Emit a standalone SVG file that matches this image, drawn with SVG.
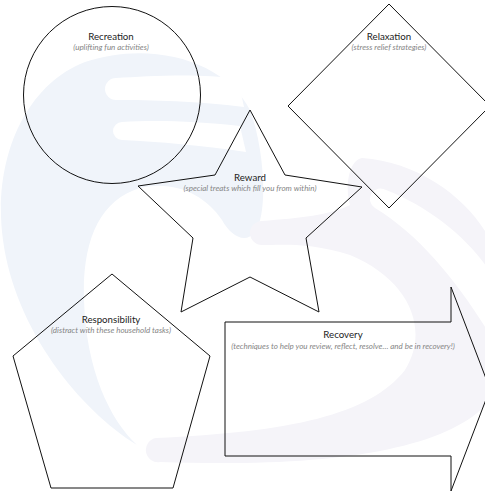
<svg xmlns="http://www.w3.org/2000/svg" width="485" height="492" viewBox="0 0 485 492">
<style>
.shape{fill:none;stroke:#111;stroke-width:1;stroke-linejoin:miter}
.t{font-family:Lato,"Liberation Sans",sans-serif;font-size:9.7px;fill:#222;text-anchor:middle}
.s{font-family:Lato,"Liberation Sans",sans-serif;font-size:8px;font-style:italic;fill:#858585;text-anchor:middle}
.bg1{fill:#f0f4fa}
.bg2{fill:#f5f4f9}
.w{fill:#ffffff}
</style>
<rect width="485" height="492" fill="#ffffff"/>
<g id="background">
<path class="bg1" d="M137,445 C80,410 15,330 3,240 C-8,160 25,85 85,62 C150,40 225,60 250,110 C265,150 268,215 255,232 C245,245 230,235 222,220 C205,195 175,180 140,188 C100,200 82,240 84,300 C86,370 110,420 137,445 Z"/>
<path class="w" d="M238,79 C200,73 150,76 116,78 A11 11 0 0 0 116,100 C150,100 200,101 244,107 Z"/>
<path class="w" d="M240,126 C195,121 155,120 122,122 A9 9 0 0 0 122,140 C160,142 200,145 246,152 Z"/>
<path class="bg2" d="M362,158 C420,162 470,200 490,240 L490,400 C450,450 330,468 160,462 A12 12 0 0 1 156,438 C290,432 370,415 405,370 C430,330 410,280 350,255 C310,242 280,245 262,245 A12 12 0 0 1 262,221 C300,218 330,215 350,205 C345,190 348,160 362,158 Z"/>
<path class="w" d="M490,335 C460,285 420,235 375,208 A10 10 0 0 1 386,190 C430,207 470,240 490,272 Z"/>
</g>
<g id="recreation">
<circle class="shape" cx="112" cy="95" r="88.5"/>
<text class="t" x="111" y="40">Recreation</text>
<text class="s" x="111" y="50">(uplifting fun activities)</text>
</g>
<g id="relaxation">
<polygon class="shape" points="389,4 490,106 389,208 288,106"/>
<text class="t" x="389" y="40">Relaxation</text>
<text class="s" x="389" y="50">(stress relief strategies)</text>
</g>
<g id="reward">
<polygon class="shape" points="250,110 285,175 362,187 306,238 319,312 250,277 181,312 193,238 138,186 215,175"/>
<text class="t" x="250" y="181">Reward</text>
<text class="s" x="250" y="190.5">(special treats which fill you from within)</text>
</g>
<g id="responsibility">
<polygon class="shape" points="112,274 210,356 173,488 51,488 13,356"/>
<text class="t" x="111" y="322.5">Responsibility</text>
<text class="s" x="111" y="333">(distract with these household tasks)</text>
</g>
<g id="recovery">
<polygon class="shape" points="225,322 451,322 451,287 490,389 451,491 451,456 225,456"/>
<text class="t" x="343" y="338">Recovery</text>
<text class="s" x="343" y="348.5">(techniques to help you review, reflect, resolve… and be in recovery!)</text>
</g>
<g id="connectors"/>
</svg>
